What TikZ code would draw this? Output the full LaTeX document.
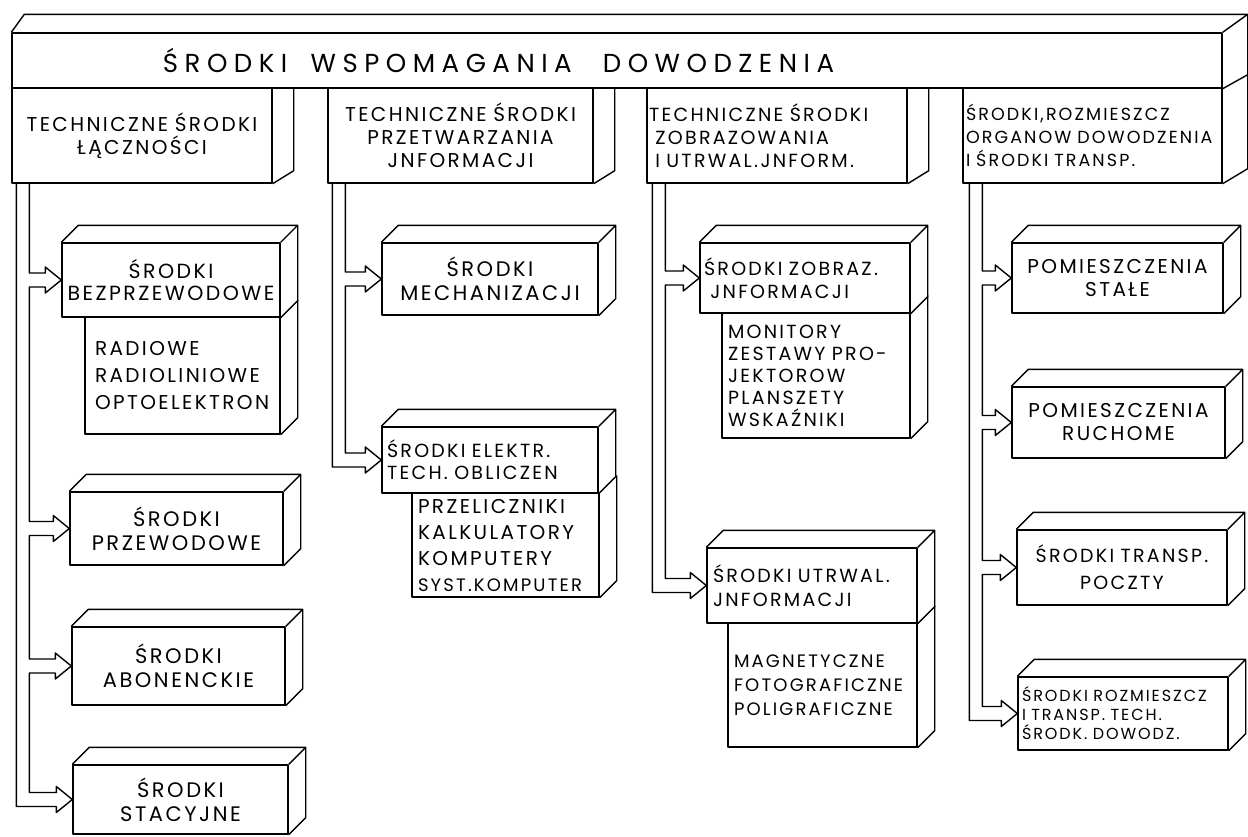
\documentclass[tikz,border=0pt]{standalone}
\usepackage{fontspec}
\setmainfont{Poppins}
\newfontfamily\hand[LetterSpace=12]{Poppins}
\newfontfamily\handT[LetterSpace=25]{Poppins}
\usetikzlibrary{calc}
\newcommand\dpx{17}
\newcommand\dpy{-17}
% hollow arrow branch from inner pipe line #1 to box #2
\newcommand\arrowto[2]{-- ($(#1 |- #2.west)+(0,-7)$) -- ($(#2.west)+(-16,-7)$) -- ($(#2.west)+(-16,-13)$) -- (#2.west) -- ($(#2.west)+(-16,13)$) -- ($(#2.west)+(-16,7)$) -- ($(#1 |- #2.west)+(0,7)$)}
% last arrow: upper edge from inner line #1, lower edge to outer line #2, box #3
\newcommand\lastarrow[3]{-- ($(#1 |- #3.west)+(0,-7)$) -- ($(#3.west)+(-16,-7)$) -- ($(#3.west)+(-16,-13)$) -- (#3.west) -- ($(#3.west)+(-16,13)$) -- ($(#3.west)+(-16,7)$) -- ($(#2 |- #3.west)+(0,7)$)}
\newcommand\depthfaces[1]{\draw[ln] (#1.north west) -- ++(\dpx,\dpy) -- ($(#1.north east)+(\dpx,\dpy)$) -- ($(#1.south east)+(\dpx,\dpy)$) -- (#1.south east) (#1.north east) -- ++(\dpx,\dpy);}
\newcommand\subfaces[1]{\draw[ln] ($(#1.north east)+(\dpx,\dpy)$) -- ($(#1.south east)+(\dpx,\dpy)$) -- (#1.south east);}
\newcommand\headface[1]{\draw[ln] ($(#1.north east)+(21,0)$) -- ($(#1.south east)+(21,-13)$) -- (#1.south east);}
\begin{document}
\begin{tikzpicture}[x=1pt,y=-1pt, line join=round,
  ln/.style={line width=1.4pt},
  fs/.style 2 args={font=\hand\fontsize{#1}{#2}\selectfont},
  box/.style={draw, ln, rectangle, inner xsep=6pt, inner ysep=0pt, fill=white,
    fs={21}{24}, align=center},
  lbox/.style={box, align=left},
  head/.style={box, minimum height=95pt, fs={20}{23}},
  pipe/.style={ln}
]
\useasboundingbox (0,0) rectangle (1248,836);

% ---------- big top box ----------
\node[box, text width=1210pt, inner xsep=0pt, minimum height=55pt, align=left,
  font=\handT\fontsize{26}{30}\selectfont] (tb) at (617,60.5)
  {\hspace*{151pt}ŚRODKI\hspace{0.9em}WSPOMAGANIA\hspace{1.2em}DOWODZENIA};
\node[head, text width=252pt, inner xsep=4pt] (h1) at (142,135.5) {TECHNICZNE ŚRODKI\\ŁĄCZNOŚCI};
\node[head, text width=257pt, inner xsep=4pt] (h2) at (460.5,135.5) {TECHNICZNE ŚRODKI\\PRZETWARZANIA\\JNFORMACJI};
\node[head, text width=256pt, inner xsep=2pt, align=left, fs={19}{23}] (h3) at (777,135.5) {TECHNICZNE ŚRODKI\\\ ZOBRAZOWANIA\\\ I UTRWAL.JNFORM.};
\node[head, text width=253pt, inner xsep=3pt, align=left, fs={17.5}{23}] (h4) at (1092.5,135.5) {ŚRODKI,ROZMIESZCZ\\ORGANOW DOWODZENIA\\I ŚRODKI TRANSP.};
\draw[ln] (tb.north west) -- ++(13,-18) -- ($(tb.north east)+(25,-18)$) -- (tb.north east);
\draw[ln] ($(tb.north east)+(25,-18)$) -- ($(h4.south east)+(25,-15)$) -- (h4.south east);
\draw[ln] (tb.south east) -- ++(25,-14);
\headface{h1}
\headface{h2}
\headface{h3}

% ---------- column 1 ----------
\node[box, text width=210pt, inner xsep=4pt, minimum height=74pt, fs={20.5}{22}] (b11) at (171,280) {ŚRODKI\\BEZPRZEWODOWE};
\node[lbox, text width=175pt, inner xsep=10pt, minimum height=117pt, fs={20}{27}] (s11) at (182.5,375.5) {RADIOWE\\RADIOLINIOWE\\OPTOELEKTRON};
\node[box, text width=201pt, minimum height=73pt] (b12) at (176.5,528.5) {ŚRODKI\\PRZEWODOWE};
\node[box, text width=201pt, minimum height=78pt] (b13) at (178.5,666) {ŚRODKI\\ABONENCKIE};
\node[box, text width=203pt, minimum height=69pt] (b14) at (180.5,799.5) {ŚRODKI\\STACYJNE};
\depthfaces{b11}\subfaces{s11}
\depthfaces{b12}\depthfaces{b13}\depthfaces{b14}

% ---------- column 2 ----------
\node[box, text width=208pt, inner xsep=4pt, minimum height=72pt] (b21) at (490,279) {ŚRODKI\\MECHANIZACJI};
\node[lbox, text width=206pt, minimum height=66pt, inner xsep=5pt, fs={19}{22}] (b22) at (490,460) {ŚRODKI ELEKTR.\\TECH. OBLICZEN};
\node[lbox, text width=175pt, inner xsep=6pt, minimum height=104pt, fs={20}{26}] (s22) at (505.5,545) {PRZELICZNIKI\\KALKULATORY\\KOMPUTERY\\{\fontsize{18}{26}\selectfont SYST.KOMPUTER}};
\depthfaces{b21}\depthfaces{b22}\subfaces{s22}

% ---------- column 3 ----------
\node[lbox, text width=202pt, inner xsep=4pt, minimum height=70pt, fs={19}{23}] (b31) at (805,278) {ŚRODKI ZOBRAZ.\\\ JNFORMACJI};
\node[lbox, text width=176pt, minimum height=125pt, fs={19}{22}] (s31) at (816,375.5) {MONITORY\\ZESTAWY PRO-\\JEKTOROW\\PLANSZETY\\WSKAŹNIKI};
\node[lbox, text width=198pt, minimum height=75pt, inner xsep=6pt, fs={19}{24}] (b32) at (812,585.5) {ŚRODKI UTRWAL.\\JNFORMACJI};
\node[lbox, text width=177pt, minimum height=124pt, inner xsep=6pt, fs={18}{24}] (s32) at (822.5,685) {MAGNETYCZNE\\FOTOGRAFICZNE\\POLIGRAFICZNE};
\depthfaces{b31}\subfaces{s31}
\depthfaces{b32}\subfaces{s32}

% ---------- column 4 ----------
\node[box, text width=203pt, inner xsep=4pt, minimum height=70pt, fs={20}{23}] (b41) at (1117.5,278) {POMIESZCZENIA\\STAŁE};
\node[box, text width=205pt, inner xsep=4pt, minimum height=71pt, fs={20}{23}] (b42) at (1118.5,422.5) {POMIESZCZENIA\\RUCHOME};
\node[box, text width=202pt, inner xsep=4pt, minimum height=75pt, fs={19}{27}] (b43) at (1122,567.5) {ŚRODKI TRANSP.\\POCZTY};
\node[lbox, text width=202pt, inner xsep=4pt, minimum height=73pt, fs={16}{19}] (b44) at (1123,713.5) {ŚRODKI ROZMIESZCZ\\I TRANSP. TECH.\\ŚRODK. DOWODZ.};
\depthfaces{b41}\depthfaces{b42}\depthfaces{b43}\depthfaces{b44}

% ---------- pipes ----------
\coordinate (p1o) at ($(h1.south west)+(5,0)$);
\coordinate (p1i) at ($(h1.south west)+(18,0)$);
\coordinate (p2o) at ($(h2.south west)+(5,0)$);
\coordinate (p2i) at ($(h2.south west)+(18,0)$);
\coordinate (p3o) at ($(h3.south west)+(6,0)$);
\coordinate (p3i) at ($(h3.south west)+(19,0)$);
\coordinate (p4o) at ($(h4.south west)+(7,0)$);
\coordinate (p4i) at ($(h4.south west)+(20,0)$);
\draw[pipe] (p1i) \arrowto{p1i}{b11} \arrowto{p1i}{b12} \arrowto{p1i}{b13} \lastarrow{p1i}{p1o}{b14} -- (p1o);
\draw[pipe] (p2i) \arrowto{p2i}{b21} \lastarrow{p2i}{p2o}{b22} -- (p2o);
\draw[pipe] (p3i) \arrowto{p3i}{b31} \lastarrow{p3i}{p3o}{b32} -- (p3o);
\draw[pipe] (p4i) \arrowto{p4i}{b41} \arrowto{p4i}{b42} \arrowto{p4i}{b43} \lastarrow{p4i}{p4o}{b44} -- (p4o);
\end{tikzpicture}
\end{document}
